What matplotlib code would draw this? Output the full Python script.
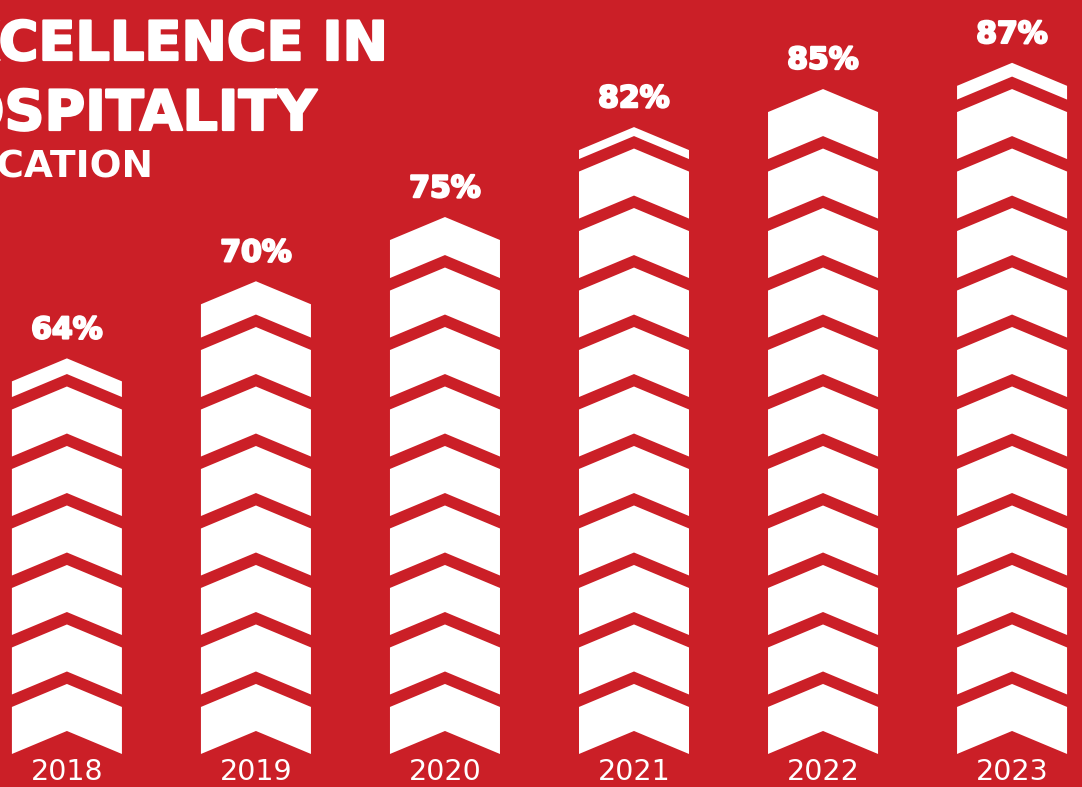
import matplotlib
matplotlib.use("Agg")
import matplotlib.pyplot as plt
import matplotlib.patheffects as pe
from matplotlib.patches import Polygon
from matplotlib.transforms import offset_copy

# data
years = ["2018", "2019", "2020", "2021", "2022", "2023"]
values = [64, 70, 75, 82, 85, 87]
title_lines = ["EXCELLENCE IN", "HOSPITALITY", "EDUCATION"]

# style
bg = "#CB1F27"
fg = "white"
base = 35.0        # value where the columns start
pitch = 4.63       # chevron step, in %
chev_h = 3.66      # chevron thickness, in %
rise = 1.79        # how far the point sticks up, in %
half_w = 0.291     # half column width, in category units
heavy = [pe.withStroke(linewidth=1.6, foreground=fg)]

plt.rcParams["font.family"] = ["DejaVu Sans"]

fig = plt.figure(figsize=(10.82, 7.87), dpi=100)
fig.patch.set_facecolor(bg)
ax = fig.add_axes([0, 0, 1, 1])
ax.set_facecolor(bg)
ax.set_xlim(-0.354, 5.370)
ax.set_ylim(32.43, 93.68)
ax.axis("off")

# stack of chevrons for each column, last one cut at the value
for i, v in enumerate(values):
    k = 0
    while base + k * pitch < v:
        b = base + k * pitch
        t = min(b + chev_h, v)
        pts = [(i - half_w, b), (i, b + rise), (i + half_w, b),
               (i + half_w, t), (i, t + rise), (i - half_w, t)]
        ax.add_patch(Polygon(pts, closed=True, facecolor=fg, edgecolor="none"))
        k += 1

    ax.annotate(f"{v}%", xy=(i, v), xytext=(0, 37), textcoords="offset points",
                ha="center", va="center", color=fg, fontsize=21.5, fontweight="bold",
                path_effects=heavy)

    tr = offset_copy(ax.transData, fig=fig, x=0, y=-13, units="points")
    ax.text(i, base, years[i], transform=tr, ha="center", va="center",
            color=fg, fontsize=20.5)

# title, running off the left edge
fig.text(388 / 1082, 1 - 60 / 787, title_lines[0], ha="right", va="baseline",
         color=fg, fontsize=39, fontweight="bold", path_effects=heavy)
fig.text(316 / 1082, 1 - 130 / 787, title_lines[1], ha="right", va="baseline",
         color=fg, fontsize=40, fontweight="bold", path_effects=heavy)
fig.text(153 / 1082, 1 - 178 / 787, title_lines[2], ha="right", va="baseline",
         color=fg, fontsize=27, fontweight="bold")

fig.savefig("out.png", dpi=100, facecolor=bg)
